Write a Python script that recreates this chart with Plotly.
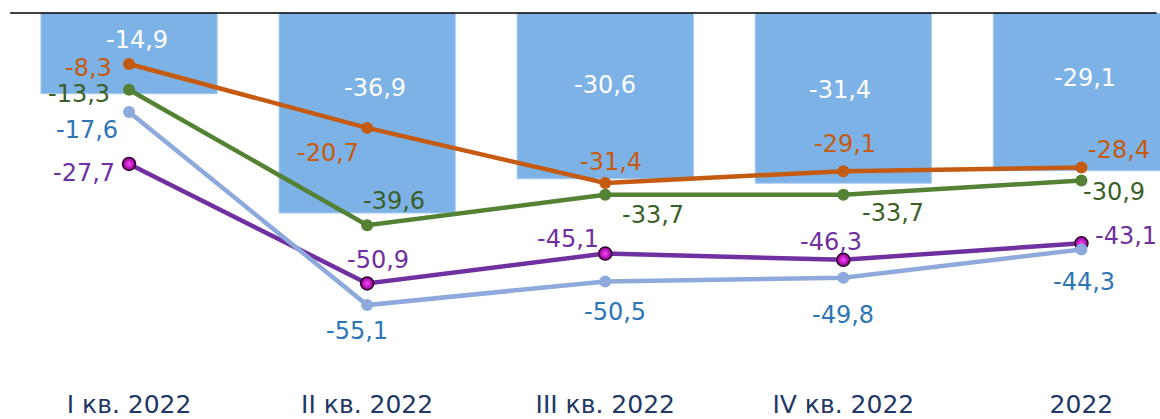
import plotly.graph_objects as go

categories = ["I кв. 2022", "II кв. 2022", "III кв. 2022", "IV кв. 2022", "2022"]
bar_values = [-14.9, -36.9, -30.6, -31.4, -29.1]
orange_values = [-8.3, -20.7, -31.4, -29.1, -28.4]
green_values = [-13.3, -39.6, -33.7, -33.7, -30.9]
lightblue_values = [-17.6, -55.1, -50.5, -49.8, -44.3]
purple_values = [-27.7, -50.9, -45.1, -46.3, -43.1]

# label offsets (pixels, dx right / dy down) - style only
bar_lbl_off = [(8, 27), (8, 75), (0, 72), (-3, 77), (4, 65)]
orange_lbl_off = [(-41, 4), (-39, 25), (6, -21), (2, -27), (38, -18)]
green_lbl_off = [(-50, 4), (27, -24), (48, 20), (50, 18), (33, 12)]
lightblue_lbl_off = [(-42, 18), (-10, 26), (10, 31), (0, 37), (3, 33)]
purple_lbl_off = [(-45, 9), (11, -23), (-37, -15), (-12, -18), (45, -7)]

FONT = "DejaVu Sans, Verdana, sans-serif"


def fmt(v):
    return f"{v:.1f}".replace(".", ",")


fig = go.Figure()

fig.add_trace(go.Bar(
    x=categories, y=bar_values, width=0.74,
    marker=dict(color="#7DB2E6", line=dict(color="#A8CBEE", width=1)),
    yaxis="y", hoverinfo="skip",
))

series = [
    (orange_values, "#C55A11", "#C55A11", orange_lbl_off, "orange"),
    (green_values, "#548235", "#3B5F27", green_lbl_off, "green"),
    (purple_values, "#7030A0", "#7030A0", purple_lbl_off, "purple"),
    (lightblue_values, "#8EA9DB", "#2E75B6", lightblue_lbl_off, "lightblue"),
]

for vals, lcol, tcol, offs, name in series:
    if name == "purple":
        marker = dict(size=13, color="#8A008A",
                      gradient=dict(type="radial", color="#FF44FF"),
                      line=dict(color="#2E002E", width=1.5))
    else:
        marker = dict(size=12, color=lcol)
    fig.add_trace(go.Scatter(
        x=categories, y=vals, mode="lines+markers", yaxis="y2",
        line=dict(color=lcol, width=4.5), marker=marker, hoverinfo="skip",
    ))

annotations = []
for i, (v, (dx, dy)) in enumerate(zip(bar_values, bar_lbl_off)):
    annotations.append(dict(
        x=i, y=0, xref="x", yref="y", text=fmt(v), showarrow=False,
        xshift=dx, yshift=-dy, font=dict(family=FONT, size=24, color="white"),
    ))
for vals, lcol, tcol, offs, name in series:
    for i, (v, (dx, dy)) in enumerate(zip(vals, offs)):
        annotations.append(dict(
            x=i, y=v, xref="x", yref="y2", text=fmt(v), showarrow=False,
            xshift=dx, yshift=-dy, font=dict(family=FONT, size=24, color=tcol),
        ))

fig.update_layout(
    width=1160, height=419, autosize=False,
    margin=dict(l=10, r=0, t=13, b=32),
    paper_bgcolor="white", plot_bgcolor="white",
    showlegend=False,
    xaxis=dict(range=[-0.5, 4.33], showgrid=False, zeroline=False, showline=False,
               ticks="", tickfont=dict(family=FONT, size=25, color="#1F3864"),
               automargin=False, fixedrange=True),
    yaxis=dict(range=[-69.0, 0], visible=False, fixedrange=True),
    yaxis2=dict(range=[-71.0, 1.6], visible=False, overlaying="y", fixedrange=True),
    annotations=annotations,
    shapes=[dict(type="line", xref="paper", yref="paper", x0=0, x1=0.997, y0=1, y1=1,
                 line=dict(color="black", width=1.5))],
)

fig.write_html("out.html", config={"displayModeBar": False},
               post_script="document.body.style.margin='0';")
